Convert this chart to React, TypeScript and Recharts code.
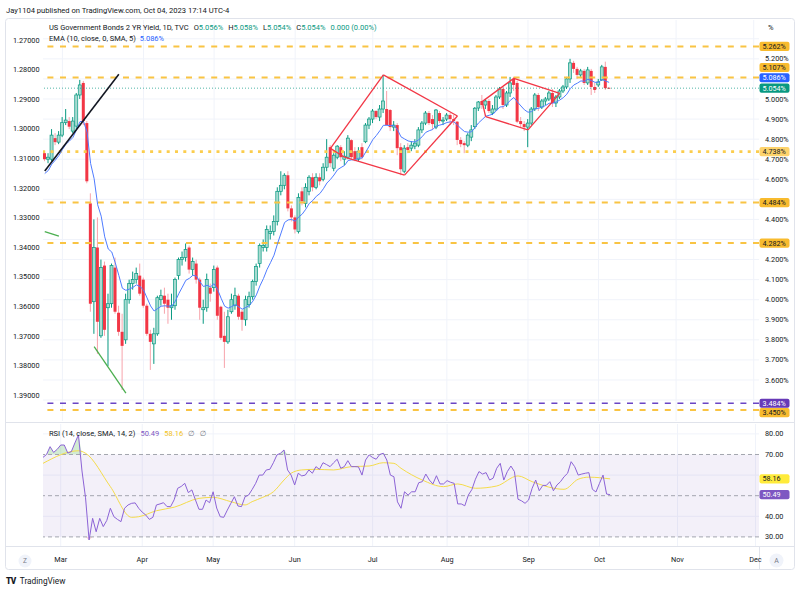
import React from 'react';
import {
  ComposedChart,
  Bar,
  Line,
  Area,
  XAxis,
  YAxis,
  ReferenceLine,
  ReferenceArea,
  CartesianGrid,
} from 'recharts';

const FONT = "Roboto, 'Noto Sans', 'DejaVu Sans', sans-serif";
const TEXT = '#131722';
const GREEN = '#089981';

// ---------------- data ----------------
// daily bars, 22 Feb 2023 .. 5 Oct 2023 (index 0 .. 160), yield in %
const opens = [
  4.73, 4.70, 4.70, 4.805, 4.785, 4.82, 4.882, 4.89, 4.84, 4.865,
  5.02, 5.08, 4.88, 4.48, 3.99, 4.26, 3.82, 4.17, 3.96, 3.98,
  4.16, 3.935, 3.84, 3.80, 4.00, 4.08, 4.10, 4.12, 4.10, 3.97,
  3.83, 3.78, 3.83, 4.00, 4.02, 4.00, 3.96, 3.97, 4.12, 4.20,
  4.21, 4.26, 4.15, 4.18, 4.10, 3.95, 3.96, 4.06, 4.06, 4.16,
  3.965, 3.82, 3.79, 3.94, 3.97, 4.02, 3.94, 3.90, 3.975, 4.015,
  4.09, 4.18, 4.26, 4.26, 4.33, 4.34, 4.39, 4.54, 4.57, 4.62,
  4.455, 4.41, 4.34, 4.54, 4.48, 4.54, 4.61, 4.56, 4.61, 4.60,
  4.66, 4.76, 4.655, 4.71, 4.76, 4.70, 4.71, 4.795, 4.74, 4.70,
  4.76, 4.787, 4.87, 4.90, 4.94, 4.91, 4.95, 4.95, 4.945, 4.86,
  4.87, 4.76, 4.64, 4.76, 4.755, 4.765, 4.77, 4.846, 4.88, 4.93,
  4.90, 4.86, 4.93, 4.89, 4.90, 4.92, 4.90, 4.887, 4.796, 4.78,
  4.77, 4.81, 4.862, 4.955, 4.99, 4.97, 4.99, 4.93, 4.95, 5.01,
  5.05, 4.97, 5.03, 5.10, 5.08, 4.89, 4.875, 4.86, 4.88, 4.95,
  5.02, 4.96, 4.99, 5.00, 5.03, 4.98, 5.01, 5.04, 5.06, 5.10,
  5.18, 5.15, 5.12, 5.14, 5.08, 5.14, 5.06, 5.07, 5.095, 5.16,
  5.056,
];
const highs = [
  4.74, 4.73, 4.85, 4.83, 4.84, 4.91, 4.95, 4.91, 4.91, 5.03,
  5.095, 5.09, 4.89, 4.53, 4.40, 4.41, 4.20, 4.19, 4.03, 4.18,
  4.21, 3.97, 3.93, 4.03, 4.10, 4.14, 4.16, 4.18, 4.11, 3.98,
  3.85, 3.86, 4.02, 4.05, 4.06, 4.03, 4.03, 4.11, 4.21, 4.24,
  4.28, 4.27, 4.21, 4.20, 4.11, 4.00, 4.13, 4.08, 4.17, 4.17,
  3.97, 3.94, 3.95, 4.03, 4.06, 4.03, 3.95, 4.02, 4.04, 4.10,
  4.18, 4.28, 4.30, 4.37, 4.37, 4.42, 4.56, 4.64, 4.63, 4.64,
  4.47, 4.42, 4.53, 4.56, 4.58, 4.62, 4.63, 4.63, 4.63, 4.68,
  4.80, 4.77, 4.73, 4.77, 4.77, 4.74, 4.82, 4.80, 4.76, 4.76,
  4.78, 4.88, 4.91, 4.95, 4.945, 4.97, 5.12, 5.04, 4.95, 4.89,
  4.88, 4.78, 4.77, 4.78, 4.79, 4.80, 4.86, 4.89, 4.94, 4.94,
  4.92, 4.95, 4.94, 4.91, 4.93, 4.93, 4.92, 4.89, 4.81, 4.79,
  4.83, 4.87, 4.96, 4.99, 5.02, 5.00, 5.00, 4.97, 5.02, 5.06,
  5.06, 5.04, 5.11, 5.11, 5.09, 4.91, 4.89, 4.90, 4.96, 5.03,
  5.03, 5.00, 5.01, 5.04, 5.05, 5.02, 5.05, 5.07, 5.11, 5.20,
  5.19, 5.16, 5.15, 5.15, 5.16, 5.15, 5.08, 5.10, 5.17, 5.186,
  5.058,
];
const lows = [
  4.69, 4.68, 4.69, 4.77, 4.775, 4.81, 4.87, 4.85, 4.83, 4.85,
  5.00, 4.87, 4.58, 3.94, 3.83, 3.73, 3.81, 3.82, 3.67, 3.96,
  3.93, 3.82, 3.55, 3.78, 3.98, 4.05, 4.08, 4.02, 3.96, 3.82,
  3.65, 3.68, 3.82, 3.97, 3.93, 3.88, 3.90, 3.95, 4.10, 4.17,
  4.19, 4.13, 4.12, 4.08, 3.90, 3.88, 3.94, 3.99, 4.04, 3.90,
  3.80, 3.66, 3.78, 3.93, 3.95, 3.90, 3.845, 3.87, 3.96, 4.00,
  4.07, 4.16, 4.24, 4.24, 4.30, 4.32, 4.37, 4.52, 4.55, 4.44,
  4.39, 4.33, 4.33, 4.47, 4.46, 4.52, 4.54, 4.55, 4.57, 4.59,
  4.64, 4.66, 4.64, 4.70, 4.69, 4.67, 4.70, 4.70, 4.69, 4.69,
  4.70, 4.78, 4.85, 4.88, 4.90, 4.89, 4.93, 4.87, 4.84, 4.84,
  4.72, 4.62, 4.63, 4.73, 4.74, 4.75, 4.76, 4.83, 4.87, 4.87,
  4.85, 4.85, 4.88, 4.87, 4.89, 4.87, 4.87, 4.77, 4.76, 4.73,
  4.76, 4.79, 4.85, 4.94, 4.95, 4.95, 4.93, 4.92, 4.94, 5.00,
  4.95, 4.96, 5.01, 5.04, 4.88, 4.86, 4.84, 4.76, 4.87, 4.94,
  4.94, 4.95, 4.97, 4.99, 4.96, 4.96, 5.00, 5.03, 5.05, 5.08,
  5.13, 5.10, 5.11, 5.07, 5.07, 5.02, 5.03, 5.06, 5.09, 5.045,
  5.054,
];
const closes = [
  4.70, 4.71, 4.82, 4.785, 4.82, 4.882, 4.895, 4.862, 4.89, 5.02,
  5.07, 4.89, 4.59, 3.98, 4.26, 3.89, 4.16, 3.85, 3.98, 4.17,
  3.94, 3.84, 3.77, 4.00, 4.08, 4.10, 4.13, 4.03, 3.97, 3.83,
  3.79, 3.83, 4.01, 4.02, 3.98, 3.96, 3.97, 4.10, 4.20, 4.21,
  4.25, 4.15, 4.19, 4.10, 3.96, 3.96, 4.10, 4.03, 4.15, 3.92,
  3.81, 3.79, 3.915, 4.00, 4.02, 3.915, 3.90, 4.00, 4.015, 4.09,
  4.165, 4.27, 4.27, 4.35, 4.34, 4.39, 4.54, 4.57, 4.62, 4.455,
  4.41, 4.35, 4.51, 4.49, 4.56, 4.61, 4.56, 4.61, 4.59, 4.66,
  4.71, 4.68, 4.72, 4.765, 4.71, 4.715, 4.805, 4.71, 4.70, 4.74,
  4.71, 4.87, 4.90, 4.94, 4.91, 4.95, 4.99, 4.87, 4.86, 4.87,
  4.755, 4.65, 4.755, 4.746, 4.77, 4.78, 4.846, 4.88, 4.93, 4.88,
  4.875, 4.945, 4.89, 4.895, 4.92, 4.90, 4.89, 4.796, 4.775, 4.77,
  4.82, 4.846, 4.954, 4.985, 4.97, 4.99, 4.94, 4.95, 5.01, 5.05,
  4.97, 5.03, 5.08, 5.07, 4.887, 4.875, 4.86, 4.88, 4.95, 5.02,
  4.96, 4.99, 5.00, 5.03, 4.98, 5.01, 5.04, 5.06, 5.10, 5.18,
  5.15, 5.12, 5.14, 5.08, 5.145, 5.06, 5.045, 5.085, 5.16, 5.054,
  5.054,
];

// RSI(14) read bar by bar from the lower pane
const rsiValues = [
  68.6, 70, 73.8, 71, 72.5, 74.6, 74.6, 70.7, 71.4, 75.6,
  79.5, 62, 49, 28.5, 39, 32.5, 39, 35, 38, 43.9,
  39.8, 38.5, 37.4, 43.9, 45.5, 46.3, 46.5, 43.9, 42, 40.6,
  38.5, 39.5, 45.5, 46, 46.6, 44.7, 44.7, 48, 53.6, 54.5,
  56, 51.5, 52.8, 48, 43.4, 43.4, 47.9, 46.6, 51.9, 44,
  39.8, 39.5, 43, 46.3, 49.5, 45, 44.7, 49.5, 50.3, 53,
  56, 60, 60, 62.5, 62.8, 66, 69.8, 70.6, 72.2, 62.5,
  60, 55.2, 60.9, 59.6, 60, 62.5, 60.9, 64.1, 62.8, 66,
  65.1, 64.1, 66, 67.7, 63.3, 64.1, 67, 64.1, 64.1, 64,
  60, 67.3, 69.8, 68.5, 67.7, 70, 70.6, 67.3, 60, 59.2,
  47, 43.9, 51.9, 50.3, 51.9, 51.9, 56.3, 56.8, 60.5, 57.6,
  55.7, 59.7, 55.7, 55.7, 57.3, 56.5, 56, 46, 46, 45.1,
  50.3, 53, 58, 61.7, 60.5, 61.2, 57.6, 58.5, 63.3, 65.7,
  57.6, 61.7, 64.4, 61.7, 48.3, 47.5, 46.3, 47.9, 53.6, 57.6,
  52.4, 55, 55, 56.8, 52.4, 55.2, 56.8, 59.2, 60.9, 66.5,
  64.1, 60, 60.5, 60.9, 61.2, 53.1, 51.8, 56, 60, 50.8,
  50.49,
];

// RSI-based SMA (yellow) read at its turning points: [bar index, value]
const rsiSignalPoints: Array<[number, number]> = [
  [0, 65.7], [10, 71.8], [12, 70.6], [19, 54.4], [25, 39.5], [27, 39.8],
  [32, 42.7], [37, 44.4], [44, 48.7], [48, 49.2], [53, 47.1], [57, 45.5],
  [59, 47.1], [62, 49.2], [65, 51.9], [68, 57.6], [70, 60.9], [73, 62.5],
  [77, 62.8], [82, 62.5], [87, 64.1], [92, 64.4], [96, 66], [99, 65.7],
  [101, 63.3], [107, 57.6], [113, 54.4], [117, 55.7], [122, 53.6], [128, 54.7],
  [134, 59.6], [138, 56.8], [147, 53.1], [151, 58], [154, 59], [160, 58.16],
];

// EMA(10) indicator: its level just before the first visible bar, and the last value shown
const EMA_PERIOD = 10;
const EMA_START = 4.613;
const EMA_LAST_SHOWN = 5.086;

// time axis: 161 bars plus empty future slots up to December
const TOTAL_SLOTS = 203;
const monthTickIdx = [5, 28, 48, 71, 93, 114, 137, 157, 179, 201];
const monthTickLabels = ['Mar', 'Apr', 'May', 'Jun', 'Jul', 'Aug', 'Sep', 'Oct', 'Nov', 'Dec'];

// price scales
const priceTicks = [3.6, 3.7, 3.8, 3.9, 4.0, 4.1, 4.2, 4.4, 4.6, 4.7, 4.8, 4.9, 5.0, 5.2];
const priceGrid = [3.5, 3.6, 3.7, 3.8, 3.9, 4.0, 4.1, 4.2, 4.3, 4.4, 4.5, 4.6, 4.7, 4.8, 4.9, 5.0, 5.1, 5.2, 5.3];
const PRICE_DOMAIN: [number, number] = [3.3956, 5.3936];
const leftTicks = [1.27, 1.28, 1.29, 1.3, 1.31, 1.32, 1.33, 1.34, 1.35, 1.36, 1.37, 1.38, 1.39];
const LEFT_DOMAIN: [number, number] = [1.26324, 1.39872];
const rsiTicks = [30, 40, 70, 80];
const rsiGrid = [40, 60, 80];
const RSI_DOMAIN: [number, number] = [25.58, 84.8];

// horizontal levels drawn on the chart
const orangeDashedLevels = [5.262, 5.107, 4.484, 4.282, 3.45];
const orangeDottedLevel = 4.738;
const purpleDashedLevel = 3.484;
const lastPrice = 5.054;

// annotations: [bar index, yield]
const blackTrendLine: Array<[number, number]> = [[0, 4.641], [21, 5.123]];
const greenStrokes: Array<Array<[number, number]>> = [
  [[0, 4.339], [4, 4.317]],
  [[14, 3.766], [23, 3.534]],
];
const redShapes: Array<Array<[number, number]>> = [
  [[81, 4.754], [96, 5.12], [117, 4.915], [102, 4.621], [85, 4.71], [81, 4.754]],
  [[124, 4.987], [133, 5.103], [146, 5.028], [137, 4.846], [125, 4.912], [124, 4.987]],
];

// ---------------- derived rows ----------------
const emaValues: number[] = [];
closes.reduce((prev, c) => {
  const e = prev + (2 / (EMA_PERIOD + 1)) * (c - prev);
  emaValues.push(e);
  return e;
}, EMA_START);

const sigByIndex = new Map<number, number>(rsiSignalPoints);
const rows = Array.from({ length: TOTAL_SLOTS }, (_, i) => {
  const has = i < closes.length;
  const r = has ? rsiValues[i] : null;
  return {
    i,
    o: has ? opens[i] : null,
    h: has ? highs[i] : null,
    l: has ? lows[i] : null,
    c: has ? closes[i] : null,
    ema: has ? emaValues[i] : null,
    rsi: r,
    sig: sigByIndex.has(i) ? sigByIndex.get(i) : null,
    ob: r == null ? null : [70, Math.max(70, r)],
    os: r == null ? null : [Math.min(30, r), 30],
    leftRef: null,
  };
});

const nLast = closes.length - 1;
const sigLast = rsiSignalPoints[rsiSignalPoints.length - 1][1];

// ---------------- rendering helpers ----------------
const UP_FILL = '#a8dbd1';
const UP_LINE = '#089981';
const DOWN_FILL = '#f23645';
const DOWN_WICK = '#f7a3ab';

const CandleShape = (props: any) => {
  const { x, y, width, height, payload } = props;
  if (!payload || payload.h == null || x == null || y == null) return <g />;
  const { o, h, l, c } = payload;
  const top = Math.min(y, y + height);
  const span = Math.abs(height);
  const k = h > l ? span / (h - l) : 0;
  const yAt = (v: number) => top + (h - v) * k;
  const up = c >= o;
  const cx = x + width / 2;
  const bTop = yAt(Math.max(o, c));
  const bH = Math.max(1, yAt(Math.min(o, c)) - bTop);
  return (
    <g>
      <line x1={cx} x2={cx} y1={top} y2={top + Math.max(span, 1)} stroke={up ? UP_LINE : DOWN_WICK} strokeWidth={1} />
      <rect
        x={x}
        y={bTop}
        width={width}
        height={bH}
        fill={up ? UP_FILL : DOWN_FILL}
        stroke={up ? UP_LINE : 'none'}
        strokeWidth={up ? 0.7 : 0}
      />
    </g>
  );
};

const Badge = (props: any) => {
  const { viewBox, text, bg, fg, shift = 0 } = props;
  if (!viewBox) return null;
  const x = viewBox.x + viewBox.width + 0.5;
  const y = viewBox.y + shift;
  return (
    <g>
      <rect x={x} y={y - 4.6} width={30} height={9.2} rx={2} fill={bg} />
      <text x={x + 3} y={y + 2.6} fontSize={7.2} fill={fg} fontFamily={FONT}>
        {text}
      </text>
    </g>
  );
};

const axisTick = { fontSize: 7.3, fill: TEXT, fontFamily: FONT };

const segmentsOf = (pts: Array<[number, number]>) =>
  pts.slice(1).map((p, k) => [pts[k], p] as [[number, number], [number, number]]);

export default function App() {
  const legendItem = (label: string, value: string) => (
    <span style={{ marginLeft: 5 }}>
      {label}
      <span style={{ color: GREEN }}>{value}</span>
    </span>
  );
  const pct = (v: number) => v.toFixed(3) + '%';

  return (
    <div
      style={{
        position: 'fixed',
        left: 0,
        top: 0,
        width: 800,
        height: 592,
        background: '#ffffff',
        overflow: 'hidden',
        fontFamily: FONT,
      }}
    >
      <svg width={800} height={592} style={{ position: 'absolute', left: 0, top: 0 }}>
        <rect x={5.5} y={18.5} width={789} height={551} rx={3} fill="none" stroke="#e0e3eb" />
        <line x1={6} x2={794} y1={422.5} y2={422.5} stroke="#e0e3eb" />
        <line x1={6} x2={794} y1={546.5} y2={546.5} stroke="#e0e3eb" />
        <line x1={759.5} x2={759.5} y1={546.5} y2={569.5} stroke="#e0e3eb" />
        <circle cx={25} cy={561} r={6.5} fill="#f0f3fa" />
        <text x={25} y={563.4} fontSize={6.5} fill="#787b86" textAnchor="middle" fontFamily={FONT}>Z</text>
        <circle cx={776.5} cy={560.5} r={7} fill="#f0f3fa" />
        <text x={776.5} y={563} fontSize={7} fill="#787b86" textAnchor="middle" fontFamily={FONT}>A</text>
      </svg>

      {/* price pane */}
      <div style={{ position: 'absolute', left: 0, top: 0 }}>
        <ComposedChart width={800} height={421} data={rows} margin={{ top: 20, right: 0, bottom: 0, left: 0 }}>
          <XAxis dataKey="i" type="category" hide />
          <YAxis
            yAxisId="left"
            orientation="left"
            type="number"
            width={43}
            domain={LEFT_DOMAIN}
            allowDataOverflow
            reversed
            ticks={leftTicks}
            interval={0}
            tickFormatter={(v: number) => v.toFixed(5)}
            tick={axisTick}
            tickLine={false}
            tickSize={0}
            tickMargin={3.5}
            axisLine={false}
          />
          <YAxis
            yAxisId="price"
            orientation="right"
            type="number"
            width={41}
            domain={PRICE_DOMAIN}
            allowDataOverflow
            ticks={priceTicks}
            interval={0}
            tickFormatter={(v: number) => v.toFixed(3) + '%'}
            tick={axisTick}
            tickLine={false}
            tickSize={0}
            tickMargin={6}
            axisLine={false}
          />
          <CartesianGrid
            yAxisId="price"
            horizontalValues={priceGrid}
            verticalValues={monthTickIdx}
            stroke="#f0f3fa"
          />
          <Line yAxisId="left" dataKey="leftRef" stroke="none" dot={false} isAnimationActive={false} legendType="none" />

          {orangeDashedLevels.map((v) => (
            <ReferenceLine key={'od' + v} yAxisId="price" y={v} stroke="#f9c443" strokeWidth={2} strokeDasharray="6 6.6" />
          ))}
          <ReferenceLine yAxisId="price" y={orangeDottedLevel} stroke="#fbcd4e" strokeWidth={2.6} strokeDasharray="3 5.3" />
          <ReferenceLine yAxisId="price" y={purpleDashedLevel} stroke="#6a45c4" strokeWidth={1.6} strokeDasharray="6 6.6" />
          <ReferenceLine yAxisId="price" y={lastPrice} stroke={GREEN} strokeOpacity={0.7} strokeWidth={1} strokeDasharray="1 2" />

          <Bar
            yAxisId="price"
            dataKey={(d: any) => (d.h == null ? null : [d.l, d.h])}
            barSize={3}
            shape={<CandleShape />}
            isAnimationActive={false}
          />
          <Line
            yAxisId="price"
            dataKey="ema"
            stroke="#4f7cff"
            strokeWidth={1}
            dot={false}
            activeDot={false}
            isAnimationActive={false}
          />

          {segmentsOf(blackTrendLine).map(([a, b], k) => (
            <ReferenceLine key={'bk' + k} yAxisId="price" segment={[{ x: a[0], y: a[1] }, { x: b[0], y: b[1] }]} stroke="#131722" strokeWidth={1.6} ifOverflow="visible" />
          ))}
          {greenStrokes.flatMap((s, si) =>
            segmentsOf(s).map(([a, b], k) => (
              <ReferenceLine key={'gr' + si + '-' + k} yAxisId="price" segment={[{ x: a[0], y: a[1] }, { x: b[0], y: b[1] }]} stroke="#4caf50" strokeWidth={1.3} ifOverflow="visible" />
            ))
          )}
          {redShapes.flatMap((s, si) =>
            segmentsOf(s).map(([a, b], k) => (
              <ReferenceLine key={'rd' + si + '-' + k} yAxisId="price" segment={[{ x: a[0], y: a[1] }, { x: b[0], y: b[1] }]} stroke="#f23645" strokeWidth={1.3} ifOverflow="visible" />
            ))
          )}

          {/* price-scale badges */}
          <ReferenceLine yAxisId="price" y={5.262} stroke="none" label={<Badge text="5.262%" bg="#f8bb2e" fg={TEXT} />} />
          <ReferenceLine yAxisId="price" y={5.107} stroke="none" label={<Badge text="5.107%" bg="#f8bb2e" fg={TEXT} shift={-10} />} />
          <ReferenceLine yAxisId="price" y={EMA_LAST_SHOWN} stroke="none" label={<Badge text={pct(EMA_LAST_SHOWN)} bg="#2962ff" fg="#ffffff" shift={-4} />} />
          <ReferenceLine yAxisId="price" y={lastPrice} stroke="none" label={<Badge text={pct(lastPrice)} bg={GREEN} fg="#ffffff" />} />
          <ReferenceLine yAxisId="price" y={orangeDottedLevel} stroke="none" label={<Badge text="4.738%" bg="#fdd36c" fg={TEXT} />} />
          <ReferenceLine yAxisId="price" y={4.484} stroke="none" label={<Badge text="4.484%" bg="#f8bb2e" fg={TEXT} />} />
          <ReferenceLine yAxisId="price" y={4.282} stroke="none" label={<Badge text="4.282%" bg="#f8bb2e" fg={TEXT} />} />
          <ReferenceLine yAxisId="price" y={purpleDashedLevel} stroke="none" label={<Badge text="3.484%" bg="#673ab7" fg="#ffffff" />} />
          <ReferenceLine yAxisId="price" y={3.45} stroke="none" label={<Badge text="3.450%" bg="#f8bb2e" fg={TEXT} shift={2.5} />} />
        </ComposedChart>
      </div>

      {/* RSI pane */}
      <div style={{ position: 'absolute', left: 0, top: 421 }}>
        <ComposedChart width={800} height={149} data={rows} margin={{ top: 3, right: 0, bottom: 0, left: 43 }}>
          <XAxis
            dataKey="i"
            type="category"
            ticks={monthTickIdx}
            interval={0}
            tickFormatter={(v: number) => monthTickLabels[monthTickIdx.indexOf(v)] ?? ''}
            height={24}
            tick={axisTick}
            tickLine={false}
            tickSize={0}
            tickMargin={11}
            axisLine={false}
          />
          <YAxis
            yAxisId="rsi"
            orientation="right"
            type="number"
            width={41}
            domain={RSI_DOMAIN}
            allowDataOverflow
            ticks={rsiTicks}
            interval={0}
            tickFormatter={(v: number) => v.toFixed(2)}
            tick={axisTick}
            tickLine={false}
            tickSize={0}
            tickMargin={6}
            axisLine={false}
          />
          <CartesianGrid yAxisId="rsi" horizontalValues={rsiGrid} verticalValues={monthTickIdx} stroke="#f0f3fa" />
          <ReferenceArea yAxisId="rsi" y1={30} y2={70} fill="#7e57c2" fillOpacity={0.09} stroke="none" />
          {[70, 50, 30].map((v) => (
            <ReferenceLine key={'rl' + v} yAxisId="rsi" y={v} stroke="#a3a6af" strokeWidth={1} strokeDasharray="4 3" />
          ))}
          <Area yAxisId="rsi" dataKey="ob" stroke="none" fill="#4caf50" fillOpacity={0.25} dot={false} activeDot={false} isAnimationActive={false} />
          <Area yAxisId="rsi" dataKey="os" stroke="none" fill="#f23645" fillOpacity={0.2} dot={false} activeDot={false} isAnimationActive={false} />
          <Line yAxisId="rsi" dataKey="sig" type="monotone" connectNulls stroke="#f5dc4a" strokeWidth={1} dot={false} activeDot={false} isAnimationActive={false} />
          <Line yAxisId="rsi" dataKey="rsi" stroke="#8c63d6" strokeWidth={1} dot={false} activeDot={false} isAnimationActive={false} />
          <ReferenceLine yAxisId="rsi" y={sigLast} stroke="none" label={<Badge text={sigLast.toFixed(2)} bg="#ffeb3b" fg={TEXT} />} />
          <ReferenceLine yAxisId="rsi" y={rsiValues[nLast]} stroke="none" label={<Badge text={rsiValues[nLast].toFixed(2)} bg="#7e57c2" fg="#ffffff" />} />
        </ComposedChart>
      </div>

      {/* header / legends */}
      <div style={{ position: 'absolute', left: 6, top: 4.5, fontSize: 7.6, lineHeight: '11px', color: TEXT, whiteSpace: 'nowrap' }}>
        Jay1104 published on TradingView.com, Oct 04, 2023 17:14 UTC-4
      </div>
      <div style={{ position: 'absolute', left: 49, top: 21.5, fontSize: 7.5, lineHeight: '11px', color: TEXT, whiteSpace: 'nowrap' }}>
        <span>US Government Bonds 2 YR Yield, 1D, TVC</span>
        {legendItem('O', pct(opens[nLast]))}
        {legendItem('H', pct(highs[nLast]))}
        {legendItem('L', pct(lows[nLast]))}
        {legendItem('C', pct(closes[nLast]))}
        <span style={{ marginLeft: 5, color: GREEN }}>0.000 (0.00%)</span>
      </div>
      <div style={{ position: 'absolute', left: 49, top: 32.5, fontSize: 7.5, lineHeight: '11px', color: TEXT, whiteSpace: 'nowrap' }}>
        EMA (10, close, 0, SMA, 5) <span style={{ color: '#2962ff', marginLeft: 2 }}>{pct(EMA_LAST_SHOWN)}</span>
      </div>
      <div style={{ position: 'absolute', left: 49, top: 428, fontSize: 7.5, lineHeight: '11px', color: TEXT, whiteSpace: 'nowrap' }}>
        RSI (14, close, SMA, 14, 2)
        <span style={{ color: '#7e57c2', marginLeft: 5 }}>{rsiValues[nLast].toFixed(2)}</span>
        <span style={{ color: '#f2c21b', marginLeft: 5 }}>{sigLast.toFixed(2)}</span>
        <span style={{ color: '#787b86', marginLeft: 5 }}>∅</span>
        <span style={{ color: '#787b86', marginLeft: 5 }}>∅</span>
      </div>
      <div style={{ position: 'absolute', left: 768, top: 22, fontSize: 7.5, lineHeight: '11px', color: TEXT }}>%</div>
      <div style={{ position: 'absolute', left: 6, top: 575, fontSize: 8.3, lineHeight: '12px', color: TEXT, whiteSpace: 'nowrap' }}>
        <span style={{ fontWeight: 900, letterSpacing: -0.5 }}>TV</span>
        <span style={{ marginLeft: 4 }}>TradingView</span>
      </div>
    </div>
  );
}
